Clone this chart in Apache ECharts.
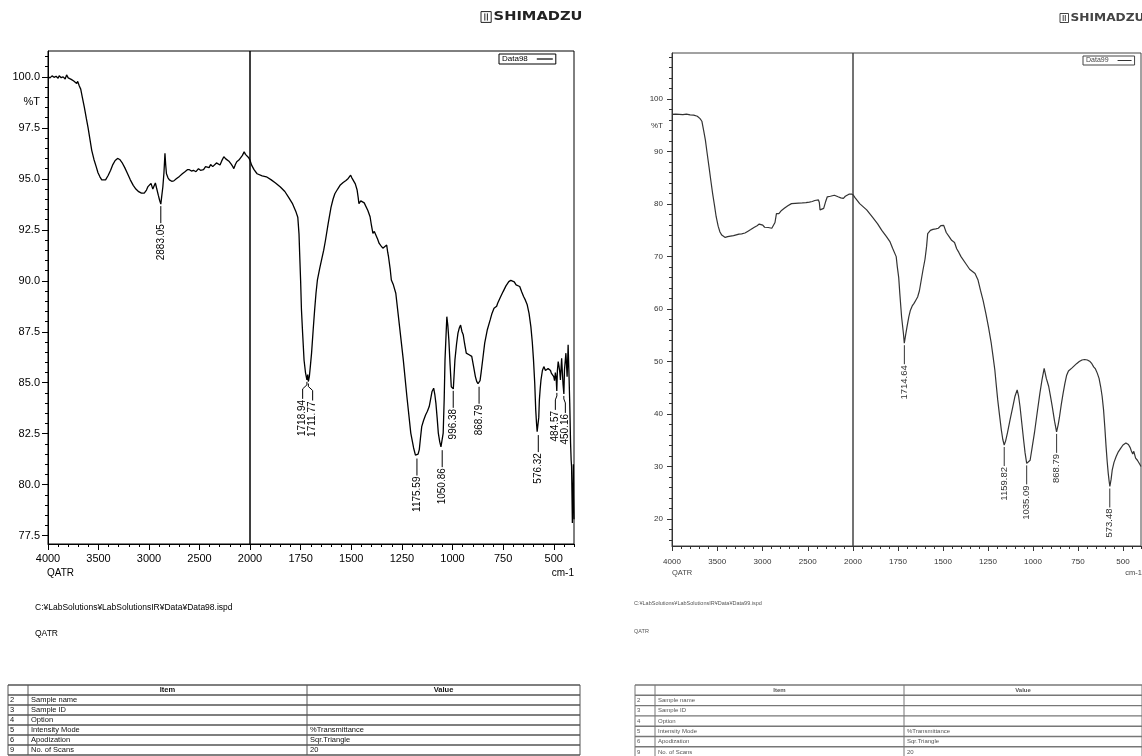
<!DOCTYPE html>
<html>
<head>
<meta charset="utf-8">
<title>IR spectra Data98 / Data99</title>
<script src="https://cdn.jsdelivr.net/npm/echarts@6/dist/echarts.min.js"></script>
<style>
  html, body { margin: 0; padding: 0; background: #fff; }
  #main { width: 1142px; height: 756px; }
</style>
</head>
<body>
<div id="main"></div>
<script>
// ---- spectrum data: [wavenumber cm-1, %T] ----
const spectrum98 = [
  [4000,100.02],[3980,99.95],[3960,100.05],[3940,99.98],[3920,100.03],[3900,99.93],[3889,100.06],[3870,99.96],
  [3850,100.0],[3830,99.9],[3816,100.1],[3800,99.95],[3785,100.02],[3770,99.88],[3761,99.97],[3745,99.8],
  [3730,99.85],[3716,99.68],[3706,99.78],[3690,99.55],[3676,99.4],[3660,99.0],[3640,98.5],[3620,97.95],
  [3603,97.5],[3585,96.95],[3567,96.4],[3545,95.95],[3523,95.6],[3505,95.3],[3486,95.1],[3468,94.95],
  [3450,94.88],[3430,94.95],[3406,95.15],[3380,95.42],[3358,95.7],[3335,95.9],[3311,96.0],[3290,95.95],
  [3267,95.8],[3240,95.55],[3212,95.25],[3185,94.95],[3156,94.68],[3130,94.5],[3102,94.37],[3075,94.3],
  [3047,94.3],[3025,94.45],[3010,94.62],[2995,94.7],[2980,94.78],[2970,94.62],[2962,94.5],[2950,94.65],
  [2937,94.8],[2925,94.55],[2908,94.2],[2895,93.95],[2883,93.76],[2875,94.1],[2863,94.6],[2852,95.3],
  [2842,96.25],[2835,95.7],[2827,95.25],[2812,95.05],[2798,94.95],[2775,94.88],[2754,94.9],[2730,95.0],
  [2699,95.12],[2670,95.25],[2644,95.35],[2620,95.45],[2600,95.45],[2580,95.38],[2560,95.42],[2535,95.35],
  [2510,95.5],[2490,95.42],[2460,95.45],[2440,95.6],[2424,95.65],[2405,95.55],[2390,95.7],[2369,95.6],
  [2350,95.68],[2332,95.78],[2315,95.7],[2297,95.68],[2280,95.88],[2259,96.08],[2240,95.98],[2223,95.92],
  [2205,95.85],[2186,95.72],[2170,95.6],[2160,95.5],[2145,95.7],[2131,95.84],[2110,95.92],[2094,96.0],
  [2075,96.15],[2058,96.33],[2045,96.2],[2029,96.16],[2015,96.05],[2000,95.92],
  [1992,95.67],[1980,95.45],[1965,95.25],[1940,95.15],[1919,95.1],[1895,94.95],[1874,94.8],[1850,94.6],
  [1828,94.38],[1810,94.1],[1791,93.8],[1780,93.55],[1773,93.38],[1764,93.12],[1758,92.3],[1755,91.4],
  [1750,90.0],[1746,88.6],[1740,87.4],[1733,86.1],[1726,85.5],[1719,85.14],[1715,85.4],[1712,85.06],
  [1707,85.3],[1702,85.8],[1696,86.45],[1688,87.6],[1681,88.55],[1674,89.4],[1667,90.05],[1656,90.6],
  [1645,91.1],[1636,91.5],[1627,92.0],[1614,92.8],[1600,93.6],[1590,94.0],[1581,94.27],[1567,94.5],
  [1554,94.7],[1540,94.82],[1526,94.92],[1515,95.02],[1508,94.98],[1503,95.18],[1497,95.05],[1490,95.0],
  [1480,94.75],[1471,94.45],[1466,94.1],[1462,93.78],[1453,93.92],[1444,93.98],[1436,93.82],[1429,93.78],
  [1418,93.45],[1407,93.14],[1400,92.7],[1393,92.32],[1386,92.42],[1380,92.4],[1370,92.05],[1362,91.83],
  [1352,91.7],[1344,91.6],[1335,91.68],[1325,91.75],[1320,91.4],[1316,91.18],[1308,90.6],[1302,90.04],
  [1292,89.8],[1280,89.39],[1262,87.8],[1243,86.12],[1225,84.3],[1206,82.53],[1192,81.8],[1183,81.45],
  [1176,81.38],[1170,81.5],[1164,81.72],[1158,82.3],[1152,82.85],[1143,83.15],[1133,83.42],[1124,83.6],
  [1115,83.83],[1108,84.2],[1101,84.57],[1093,84.73],[1087,84.4],[1082,84.0],[1076,83.3],[1070,82.53],
  [1063,82.1],[1057,81.85],[1051,81.79],[1046,82.53],[1041,84.2],[1037,86.12],[1032,87.3],[1028,88.24],
  [1023,87.8],[1018,87.1],[1012,85.9],[1006,84.8],[1000,84.74],[996,84.7],[992,85.4],[988,86.12],
  [980,86.9],[973,87.43],[966,87.7],[960,87.83],[953,87.5],[947,87.35],[940,86.9],[932,86.45],
  [925,86.4],[918,86.37],[911,86.4],[905,86.29],[896,85.8],[887,85.3],[880,85.05],[874,84.95],
  [869,84.9],[864,85.1],[859,85.47],[850,86.2],[841,86.94],[828,87.6],[814,88.08],[805,88.4],
  [795,88.65],[787,88.57],[782,88.75],[777,88.9],[763,89.2],[750,89.47],[736,89.75],[722,89.96],
  [712,90.02],[704,90.04],[695,89.95],[686,89.8],[677,89.75],[668,89.72],[658,89.45],[649,89.23],
  [640,89.05],[631,88.82],[622,88.4],[613,87.75],[606,87.0],[600,86.12],[594,85.0],[589,83.67],
  [585,83.0],[582,82.6],[576,82.53],[574,83.3],[571,84.16],[567,84.7],[563,85.14],[556,85.6],
  [549,85.79],[541,85.6],[534,85.55],[528,85.7],[521,85.79],[516,85.6],[512,85.47],[506,85.4],
  [500,85.3],[496,85.1],[492,85.5],[488,85.2],[485,84.6],[482,85.6],[478,86.04],[474,85.8],
  [470,85.5],[467,85.14],[464,85.7],[461,86.2],[458,85.6],[454,84.9],[450,84.45],[447,85.63],
  [443,86.1],[440,86.45],[437,85.9],[434,85.3],[431,86.2],[429,86.86],[425,85.5],[421,84.0],
  [417,82.04],[414,81.2],[412,80.9],[410,79.5],[408,78.12],[406,79.2],[405,79.6],[403,81.0],
  [402,79.5],[400,78.3]
];

const spectrum99 = [
  [4000,97.1],[3980,97.0],[3960,97.15],[3940,96.95],[3920,97.1],[3900,96.9],[3880,97.05],[3860,96.95],
  [3840,97.15],[3820,96.9],[3800,97.0],[3780,96.8],[3760,96.95],[3740,96.7],[3720,96.75],[3705,96.5],
  [3690,96.3],[3670,95.8],[3650,94.0],[3631,92.2],[3611,89.6],[3591,87.1],[3571,84.5],[3551,82.0],
  [3531,79.8],[3512,77.6],[3490,75.8],[3470,74.7],[3450,74.1],[3430,73.8],[3412,73.66],[3385,73.8],
  [3354,73.9],[3320,74.0],[3290,74.15],[3260,74.3],[3230,74.35],[3194,74.5],[3160,74.85],[3130,75.15],
  [3116,75.36],[3090,75.6],[3060,75.9],[3036,76.2],[3015,76.05],[2997,76.0],[2977,75.6],[2957,75.4],
  [2937,75.55],[2917,75.6],[2897,75.4],[2878,75.36],[2862,76.5],[2846,78.2],[2832,78.0],[2819,78.2],
  [2790,78.8],[2759,79.2],[2720,79.7],[2680,80.1],[2640,80.15],[2601,80.2],[2560,80.25],[2520,80.3],
  [2482,80.4],[2450,80.5],[2422,80.7],[2400,80.6],[2382,80.8],[2372,80.3],[2364,78.9],[2345,78.9],
  [2324,79.2],[2304,80.4],[2284,81.4],[2250,81.5],[2206,81.7],[2185,81.6],[2165,81.4],[2135,81.2],
  [2106,81.1],[2085,81.5],[2066,81.7],[2045,81.9],[2027,82.0],[2012,81.9],[2000,81.8],
  [1990,81.3],[1963,80.1],[1924,78.9],[1894,77.6],[1864,76.3],[1840,75.0],[1814,73.8],[1794,72.8],
  [1780,71.6],[1760,70.0],[1754,68.1],[1746,66.0],[1740,63.0],[1730,58.5],[1720,55.4],[1715,53.5],
  [1708,55.0],[1700,56.6],[1690,58.5],[1681,59.8],[1671,60.6],[1661,61.1],[1651,61.7],[1641,62.3],
  [1631,63.5],[1621,65.5],[1611,67.5],[1600,69.5],[1591,72.0],[1585,74.4],[1570,75.0],[1556,75.2],
  [1540,75.3],[1526,75.4],[1512,75.9],[1496,75.95],[1490,75.8],[1482,74.6],[1466,73.8],[1452,73.1],
  [1436,72.7],[1424,71.5],[1412,70.8],[1400,70.0],[1392,69.7],[1372,68.6],[1352,67.6],[1342,67.4],
  [1322,66.8],[1306,65.6],[1292,63.6],[1277,61.6],[1262,59.2],[1247,56.5],[1232,53.5],[1222,51.0],
  [1212,48.4],[1204,45.5],[1196,42.7],[1186,39.8],[1176,37.0],[1168,35.2],[1160,34.1],[1152,34.9],
  [1142,36.4],[1127,39.0],[1112,41.4],[1100,43.4],[1088,44.6],[1080,43.4],[1072,41.4],[1062,38.2],
  [1052,35.0],[1044,32.6],[1035,30.6],[1026,30.9],[1016,31.2],[1004,33.8],[992,36.4],[977,40.2],
  [962,43.9],[950,46.5],[938,48.7],[926,46.8],[913,45.3],[903,43.4],[893,41.4],[880,38.6],
  [869,36.6],[860,38.0],[853,39.4],[843,41.8],[833,43.9],[823,45.8],[813,47.4],[803,48.2],
  [793,48.4],[783,48.8],[773,49.0],[758,49.6],[743,50.0],[728,50.3],[713,50.4],[698,50.3],
  [683,50.0],[673,49.6],[663,49.0],[653,48.6],[643,47.8],[633,46.8],[624,45.2],[616,43.4],
  [608,40.8],[601,37.5],[594,33.8],[588,31.0],[582,28.7],[577,27.2],[573,26.2],[566,27.6],
  [560,29.3],[550,30.8],[538,31.9],[526,32.8],[514,33.4],[500,34.1],[484,34.5],[470,34.2],
  [460,33.6],[454,33.0],[446,32.4],[440,32.9],[430,31.6],[420,31.2],[415,30.9],[406,30.4],[400,30.0]
];

// picked peaks: [wavenumber, %T]
const peaks98 = [[2883.05,93.76],[1718.94,85.14],[1711.77,85.06],[1175.59,81.38],[1050.86,81.79],
  [996.38,84.70],[868.79,84.90],[576.32,82.53],[484.57,84.60],[450.16,84.45]];
const peaks99 = [[1714.64,53.5],[1159.82,34.1],[1035.09,30.6],[868.79,36.6],[573.48,26.2]];

// axis ticks
const xLabelsHigh = [4000, 3500, 3000, 2500, 2000];
const xLabelsLow = [1750, 1500, 1250, 1000, 750, 500];
const yLabels98 = [77.5, 80.0, 82.5, 85.0, 87.5, 90.0, 92.5, 95.0, 97.5, 100.0];
const yLabels99 = [20, 30, 40, 50, 60, 70, 80, 90, 100];
const yRange98 = [77.09, 101.27];
const yRange99 = [14.86, 108.8];
const pctT98 = 98.75;   // where "%T" sits on the axis
const pctT99 = 95;

// sample table
const tableNo = ['2', '3', '4', '5', '6', '9'];
const tableItem = ['Sample name', 'Sample ID', 'Option', 'Intensity Mode', 'Apodization', 'No. of Scans'];
const tableValue = ['', '', '', '%Transmittance', 'Sqr.Triangle', '20'];

const FONT = '"Liberation Sans", Arial, sans-serif';

function range(a, b, step) {
  const out = [];
  for (let v = a; v <= b + 1e-9; v += step) out.push(Math.round(v * 100) / 100);
  return out;
}

// push close peak labels apart (like the Shimadzu print does)
function spreadLabels(xs, gap) {
  const order = xs.map((x, i) => i).sort((a, b) => xs[a] - xs[b]);
  let groups = order.map(i => ({ ids: [i], center: xs[i] }));
  let merged = true;
  while (merged) {
    merged = false;
    const out = [];
    groups.forEach(g => {
      const prev = out[out.length - 1];
      if (prev) {
        const prevRight = prev.center + (prev.ids.length - 1) * gap / 2;
        const left = g.center - (g.ids.length - 1) * gap / 2;
        if (left - prevRight < gap) {
          const ids = prev.ids.concat(g.ids);
          const center = ids.reduce((s, i) => s + xs[i], 0) / ids.length;
          out[out.length - 1] = { ids: ids, center: center };
          merged = true;
          return;
        }
      }
      out.push(g);
    });
    groups = out;
  }
  const res = [];
  groups.forEach(g => g.ids.forEach((id, k) => {
    res[id] = g.center + (k - (g.ids.length - 1) / 2) * gap;
  }));
  return res;
}

function peakRenderer(peaks, st) {
  return function (params, api) {
    const pts = peaks.map(p => api.coord(p));
    const lx = spreadLabels(pts.map(p => p[0]), st.gap);
    const i = params.dataIndex;
    const px = pts[i][0], py = pts[i][1];
    const x = lx[i];
    const y0 = py + 2, yEnd = py + st.stem;
    const points = Math.abs(x - px) < 0.5
      ? [[px, y0], [px, yEnd]]
      : [[px, y0], [px, y0 + 3], [x, y0 + 7], [x, yEnd]];
    return {
      type: 'group',
      children: [
        { type: 'polyline', shape: { points: points }, style: { stroke: st.color, lineWidth: 1, fill: null } },
        {
          type: 'text', x: x, y: yEnd + 1, rotation: Math.PI / 2,
          style: {
            text: peaks[i][0].toFixed(2), align: 'right', verticalAlign: 'middle',
            fontSize: st.font, fontFamily: FONT, fill: st.color
          }
        }
      ]
    };
  };
}

function xAxes(gridIndex, min, max, labels, minors, st) {
  return [{
    gridIndex: gridIndex, type: 'value', min: min, max: max, inverse: true, position: 'bottom',
    axisLine: { show: true, onZero: false, lineStyle: { color: st.color, width: 1 } },
    axisTick: { show: true, length: st.major, customValues: labels, lineStyle: { color: st.color } },
    axisLabel: {
      show: true, customValues: labels, color: st.color, fontSize: st.font, fontFamily: FONT,
      margin: st.xMargin, showMinLabel: true, showMaxLabel: true,
      formatter: v => String(v)
    },
    splitLine: { show: false }
  }, {
    gridIndex: gridIndex, type: 'value', min: min, max: max, inverse: true, position: 'bottom',
    axisLine: { show: false },
    axisTick: { show: true, length: st.minor, customValues: minors, lineStyle: { color: st.color } },
    axisLabel: { show: false },
    splitLine: { show: false }
  }];
}

function yAxes(gridIndex, yr, labels, minors, pct, fmt, st) {
  return [{
    gridIndex: gridIndex, type: 'value', min: yr[0], max: yr[1], position: 'left',
    axisLine: { show: true, onZero: false, lineStyle: { color: st.color, width: 1 } },
    axisTick: { show: true, length: st.major, customValues: labels, lineStyle: { color: st.color } },
    axisLabel: {
      show: true, customValues: labels.concat([pct]), color: st.color, fontSize: st.font,
      fontFamily: FONT, margin: st.yMargin,
      formatter: v => (v === pct ? '%T' : fmt(v))
    },
    splitLine: { show: false }
  }, {
    gridIndex: gridIndex, type: 'value', min: yr[0], max: yr[1], position: 'left',
    axisLine: { show: false },
    axisTick: { show: true, length: st.minor, customValues: minors, lineStyle: { color: st.color } },
    axisLabel: { show: false },
    splitLine: { show: false }
  }, {
    gridIndex: gridIndex + 1, type: 'value', min: yr[0], max: yr[1], show: false
  }];
}

const st98 = { color: '#000', font: 11, major: 6, minor: 3, xMargin: 9, yMargin: 8 };
const st99 = { color: '#333', font: 8, major: 5, minor: 3, xMargin: 12, yMargin: 9 };
const peakSt98 = { color: '#000', font: 10, stem: 19, gap: 10 };
const peakSt99 = { color: '#333', font: 9.5, stem: 21, gap: 9 };

const high = s => s.filter(p => p[0] >= 2000);
const low = s => s.filter(p => p[0] <= 2000);

function frameGrid(left, top, width, height, color) {
  return { left: left, top: top, width: width, height: height, show: true,
           borderColor: color, borderWidth: 1, backgroundColor: 'transparent', outerBoundsMode: 'none' };
}

function lineSeries(name, data, xi, yi, color, width) {
  return {
    type: 'line', name: name, data: data, xAxisIndex: xi, yAxisIndex: yi,
    showSymbol: false, symbol: 'none', silent: true, animation: false,
    lineStyle: { color: color, width: width }, itemStyle: { color: color }
  };
}

function peakSeries(peaks, xi, yi, st) {
  return {
    type: 'custom', data: peaks, xAxisIndex: xi, yAxisIndex: yi, clip: false,
    silent: true, animation: false, z: 5, renderItem: peakRenderer(peaks, st)
  };
}

function tableGraphic(cols, top, rowH, fontSize, color, lineColor) {
  const els = [];
  const nRows = tableNo.length + 1;
  const bottom = top + rowH * nRows;
  for (let r = 0; r <= nRows; r++) {
    els.push({ type: 'line', shape: { x1: cols[0], y1: top + r * rowH, x2: cols[3], y2: top + r * rowH },
               style: { stroke: lineColor, lineWidth: 1.4 } });
  }
  cols.forEach(x => els.push({ type: 'line', shape: { x1: x, y1: top, x2: x, y2: bottom },
                                style: { stroke: lineColor, lineWidth: 1 } }));
  const txt = (x, y, s, align, bold) => ({
    type: 'text', x: x, y: y,
    style: { text: s, fontSize: fontSize, fontFamily: FONT, fontWeight: bold ? 'bold' : 'normal',
             fill: color, align: align, verticalAlign: 'middle' }
  });
  els.push(txt((cols[1] + cols[2]) / 2, top + rowH / 2, 'Item', 'center', true));
  els.push(txt((cols[2] + cols[3]) / 2, top + rowH / 2, 'Value', 'center', true));
  tableNo.forEach((n, i) => {
    const y = top + rowH * (i + 1.5);
    els.push(txt(cols[0] + 2, y, n, 'left'));
    els.push(txt(cols[1] + 3, y, tableItem[i], 'left'));
    els.push(txt(cols[2] + 3, y, tableValue[i], 'left'));
  });
  return els;
}

function logo(x, y, size, color) {
  return [
    { type: 'rect', shape: { x: x, y: y - size * 0.45, width: size * 0.85, height: size * 0.9 },
      style: { stroke: color, fill: null, lineWidth: 1 } },
    { type: 'line', shape: { x1: x + size * 0.32, y1: y - size * 0.3, x2: x + size * 0.32, y2: y + size * 0.3 },
      style: { stroke: color, lineWidth: 1 } },
    { type: 'line', shape: { x1: x + size * 0.53, y1: y - size * 0.3, x2: x + size * 0.53, y2: y + size * 0.3 },
      style: { stroke: color, lineWidth: 1 } },
    { type: 'text', x: x + size * 1.05, y: y, scaleX: 1.22,
      style: { text: 'SHIMADZU', fontSize: size, fontWeight: 'bold', fontFamily: '"DejaVu Sans", sans-serif',
               fill: color, align: 'left', verticalAlign: 'middle' } }
  ];
}

const chart = echarts.init(document.getElementById('main'), null, { renderer: 'canvas' });

const option = {
  backgroundColor: '#fff',
  animation: false,
  grid: [
    frameGrid(48, 51, 202, 493, '#000'),
    frameGrid(250, 51, 324, 493, '#000'),
    frameGrid(672, 53, 181, 493, '#444'),
    frameGrid(853, 53, 288, 493, '#444')
  ],
  xAxis: [].concat(
    xAxes(0, 2000, 4000, xLabelsHigh, range(2000, 4000, 100), st98),
    xAxes(1, 400, 2000, xLabelsLow, range(400, 2000, 50), st98),
    xAxes(2, 2000, 4000, xLabelsHigh, range(2000, 4000, 100), st99),
    xAxes(3, 400, 2000, xLabelsLow, range(400, 2000, 50), st99)
  ),
  yAxis: [].concat(
    yAxes(0, yRange98, yLabels98, range(77.5, 101, 0.5), pctT98, v => v.toFixed(1), st98),
    yAxes(2, yRange99, yLabels99, range(16, 108, 2), pctT99, v => String(v), st99)
  ),
  legend: [
    {
      data: ['Data98'], left: 499, top: 54, orient: 'horizontal', align: 'right',
      icon: 'rect', itemWidth: 16, itemHeight: 1.2, itemGap: 0,
      borderColor: '#000', borderWidth: 1, padding: [1, 3, 1, 3], borderRadius: 0,
      textStyle: { fontSize: 8, fontFamily: FONT, color: '#000', padding: [0, 4, 0, 0] },
      selectedMode: false
    },
    {
      data: ['Data99'], left: 1083, top: 56, orient: 'horizontal', align: 'right',
      icon: 'rect', itemWidth: 14, itemHeight: 1, itemGap: 0,
      borderColor: '#444', borderWidth: 1, padding: [1, 3, 1, 3], borderRadius: 0,
      textStyle: { fontSize: 7, fontFamily: FONT, color: '#444', padding: [0, 4, 0, 0] },
      selectedMode: false
    }
  ],
  series: [
    lineSeries('Data98', high(spectrum98), 0, 0, '#000', 1.3),
    lineSeries('Data98', low(spectrum98), 2, 2, '#000', 1.3),
    peakSeries(peaks98.filter(p => p[0] >= 2000), 0, 0, peakSt98),
    peakSeries(peaks98.filter(p => p[0] < 2000), 2, 2, peakSt98),
    lineSeries('Data99', high(spectrum99), 4, 3, '#333', 1.2),
    lineSeries('Data99', low(spectrum99), 6, 5, '#333', 1.2),
    peakSeries(peaks99.filter(p => p[0] >= 2000), 4, 3, peakSt99),
    peakSeries(peaks99.filter(p => p[0] < 2000), 6, 5, peakSt99)
  ],
  graphic: {
    elements: [].concat(
      logo(481, 17, 12, '#222'),
      logo(1060, 18, 10, '#444'),
      [
        { type: 'text', x: 47, y: 573, style: { text: 'QATR', fontSize: 10, fontFamily: FONT, fill: '#000', verticalAlign: 'middle' } },
        { type: 'text', x: 574, y: 573, style: { text: 'cm-1', fontSize: 10, fontFamily: FONT, fill: '#000', align: 'right', verticalAlign: 'middle' } },
        { type: 'text', x: 672, y: 573, style: { text: 'QATR', fontSize: 7.5, fontFamily: FONT, fill: '#444', verticalAlign: 'middle' } },
        { type: 'text', x: 1142, y: 573, style: { text: 'cm-1', fontSize: 7.5, fontFamily: FONT, fill: '#444', align: 'right', verticalAlign: 'middle' } },
        { type: 'text', x: 35, y: 608, style: { text: 'C:\u00a5LabSolutions\u00a5LabSolutionsIR\u00a5Data\u00a5Data98.ispd', fontSize: 8.5, fontFamily: FONT, fill: '#000', verticalAlign: 'middle' } },
        { type: 'text', x: 35, y: 634, style: { text: 'QATR', fontSize: 8.5, fontFamily: FONT, fill: '#000', verticalAlign: 'middle' } },
        { type: 'text', x: 634, y: 603, style: { text: 'C:\u00a5LabSolutions\u00a5LabSolutionsIR\u00a5Data\u00a5Data99.ispd', fontSize: 5.5, fontFamily: FONT, fill: '#555', verticalAlign: 'middle' } },
        { type: 'text', x: 634, y: 631, style: { text: 'QATR', fontSize: 5.5, fontFamily: FONT, fill: '#555', verticalAlign: 'middle' } }
      ],
      tableGraphic([8, 28, 307, 580], 685, 10, 7.5, '#111', '#555'),
      tableGraphic([635, 655, 904, 1142], 685, 10.3, 6, '#555', '#777')
    )
  }
};

chart.setOption(option);
</script>
</body>
</html>
